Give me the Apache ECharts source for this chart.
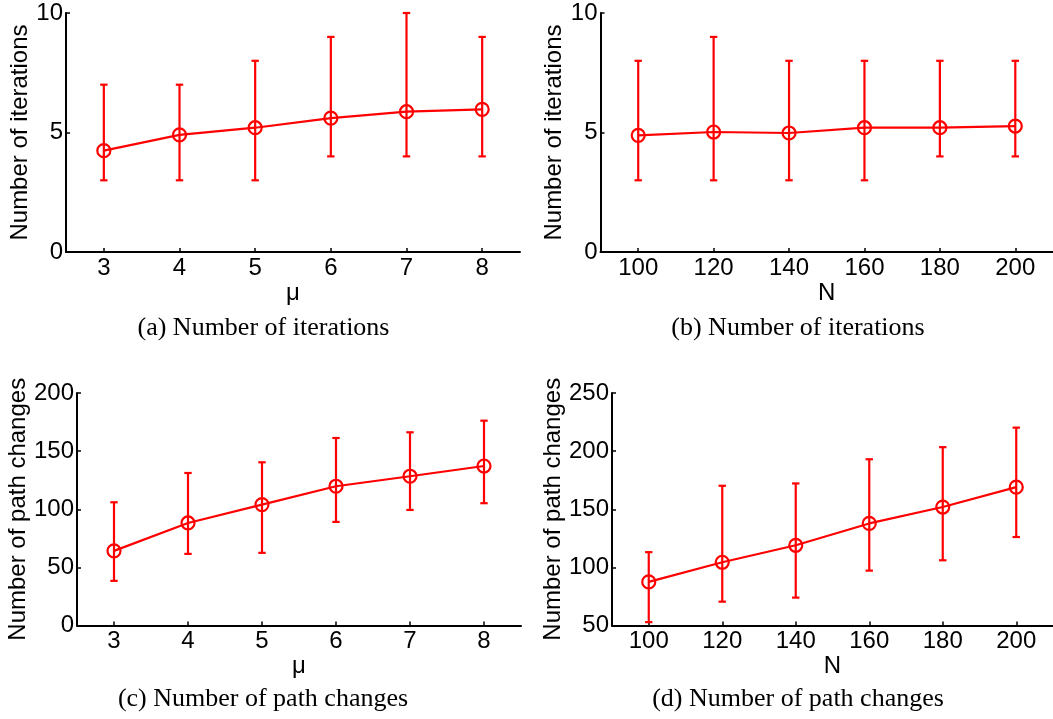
<!DOCTYPE html>
<html>
<head>
<meta charset="utf-8">
<script src="https://cdn.jsdelivr.net/npm/echarts@6/dist/echarts.min.js"></script>
<style>
html, body { margin: 0; padding: 0; background: #fff; }
#main { width: 1053px; height: 719px; }
</style>
</head>
<body>
<div id="main"></div>
<script>
// x values
var muVals = [3, 4, 5, 6, 7, 8];
var nVals = [100, 120, 140, 160, 180, 200];

// (a) iterations vs mu
var iterMuMean = [4.24, 4.9, 5.2, 5.6, 5.87, 5.97];
var iterMuLow = [3, 3, 3, 4, 4, 4];
var iterMuHigh = [7, 7, 8, 9, 10, 9];

// (b) iterations vs N
var iterNMean = [4.88, 5.02, 4.98, 5.2, 5.2, 5.27];
var iterNLow = [3, 3, 3, 3, 4, 4];
var iterNHigh = [8, 9, 8, 8, 8, 8];

// (c) path changes vs mu
var pathMuMean = [64.2, 88.2, 104, 119.8, 128.4, 137.2];
var pathMuLow = [38.4, 61.6, 62.5, 89.1, 99.4, 105.2];
var pathMuHigh = [106, 131.2, 140.4, 161.3, 166.2, 176.2];

// (d) path changes vs N
var pathNMean = [87.5, 104.4, 119, 137.8, 151.9, 169];
var pathNLow = [52.9, 70.5, 74, 97.2, 106.1, 126.1];
var pathNHigh = [113.1, 170.2, 172.2, 193, 203.4, 220.2];

// tick labels
var iterTicks = [0, 5, 10];
var pathMuTicks = [0, 50, 100, 150, 200];
var pathNTicks = [50, 100, 150, 200, 250];

var captions = ['(a) Number of iterations', '(b) Number of iterations',
		'(c) Number of path changes', '(d) Number of path changes'];

var RED = '#ff0000';
var SANS = 'Liberation Sans, Arial, sans-serif';
var FS = 24;

function xAxisOf(idx, name, min, max, ticks) {
	return {
		type : 'value',
		gridIndex : idx,
		min : min,
		max : max,
		name : name,
		nameLocation : 'middle',
		nameGap : 26,
		nameTextStyle : { color : '#000', fontSize : FS, fontFamily : SANS },
		axisLine : { onZero : false, lineStyle : { color : '#000', width : 2 } },
		axisTick : { inside : true, length : 4, customValues : ticks, lineStyle : { color : '#000', width : 1.5 } },
		axisLabel : { customValues : ticks, margin : 4, color : '#000', fontSize : FS, fontFamily : SANS },
		splitLine : { show : false }
	};
}

function yAxisOf(idx, name, min, max, ticks, gap) {
	return {
		type : 'value',
		gridIndex : idx,
		min : min,
		max : max,
		name : name,
		nameLocation : 'middle',
		nameGap : gap,
		nameTextStyle : { color : '#000', fontSize : FS, fontFamily : SANS },
		axisLine : { show : true, onZero : false, lineStyle : { color : '#000', width : 2 } },
		axisTick : { show : true, inside : true, length : 4, customValues : ticks, lineStyle : { color : '#000', width : 1.5 } },
		axisLabel : { customValues : ticks, margin : 3, color : '#000', fontSize : FS, fontFamily : SANS },
		splitLine : { show : false }
	};
}

// 均值折线 + 空心圆
function lineSeries(idx, xs, ys) {
	var data = [];
	for (var i = 0; i < xs.length; i++) {
		data.push([ xs[i], ys[i] ]);
	}
	return {
		type : 'line',
		xAxisIndex : idx,
		yAxisIndex : idx,
		data : data,
		symbol : 'circle',
		symbolSize : 13,
		itemStyle : { color : 'rgba(0,0,0,0)', borderColor : RED, borderWidth : 2.2 },
		lineStyle : { color : RED, width : 2.2 },
		z : 3
	};
}

// 误差棒
function errorSeries(idx, xs, low, high) {
	var data = [];
	for (var i = 0; i < xs.length; i++) {
		data.push([ xs[i], low[i], high[i] ]);
	}
	return {
		type : 'custom',
		xAxisIndex : idx,
		yAxisIndex : idx,
		data : data,
		encode : { x : 0, y : [ 1, 2 ] },
		z : 4,
		renderItem : function(params, api) {
			var x = api.value(0);
			var lo = api.coord([ x, api.value(1) ]);
			var hi = api.coord([ x, api.value(2) ]);
			var w = 3.7;
			var st = { stroke : RED, lineWidth : 2.2 };
			return {
				type : 'group',
				children : [
					{ type : 'line', shape : { x1 : lo[0], y1 : lo[1], x2 : hi[0], y2 : hi[1] }, style : st },
					{ type : 'line', shape : { x1 : lo[0] - w, y1 : lo[1], x2 : lo[0] + w, y2 : lo[1] }, style : st },
					{ type : 'line', shape : { x1 : hi[0] - w, y1 : hi[1], x2 : hi[0] + w, y2 : hi[1] }, style : st }
				]
			};
		}
	};
}

function captionText(x, y, text) {
	return {
		type : 'text',
		x : x,
		y : y,
		style : {
			text : text,
			fill : '#000',
			font : '26px "Liberation Serif", "Times New Roman", serif',
			align : 'center',
			verticalAlign : 'middle',
			textAlign : 'center',
			textVerticalAlign : 'middle'
		}
	};
}

var chart = echarts.init(document.getElementById('main'));

var option = {
	animation : false,
	backgroundColor : '#fff',
	grid : [
		{ left : 66, top : 13, width : 454, height : 239 },
		{ left : 600.5, top : 13, width : 454, height : 239 },
		{ left : 77, top : 393, width : 444, height : 232.5 },
		{ left : 612, top : 393, width : 442, height : 232.5 }
	],
	xAxis : [
		xAxisOf(0, 'μ', 2.5, 8.5, muVals),
		xAxisOf(1, 'N', 90, 210, nVals),
		xAxisOf(2, 'μ', 2.5, 8.5, muVals),
		xAxisOf(3, 'N', 90, 210, nVals)
	],
	yAxis : [
		yAxisOf(0, 'Number of iterations', 0, 10, iterTicks, 34),
		yAxisOf(1, 'Number of iterations', 0, 10, iterTicks, 34),
		yAxisOf(2, 'Number of path changes', 0, 200, pathMuTicks, 45),
		yAxisOf(3, 'Number of path changes', 50, 250, pathNTicks, 45)
	],
	series : [
		lineSeries(0, muVals, iterMuMean),
		errorSeries(0, muVals, iterMuLow, iterMuHigh),
		lineSeries(1, nVals, iterNMean),
		errorSeries(1, nVals, iterNLow, iterNHigh),
		lineSeries(2, muVals, pathMuMean),
		errorSeries(2, muVals, pathMuLow, pathMuHigh),
		lineSeries(3, nVals, pathNMean),
		errorSeries(3, nVals, pathNLow, pathNHigh)
	],
	graphic : [
		captionText(263.5, 328, captions[0]),
		captionText(798, 328, captions[1]),
		captionText(263, 699, captions[2]),
		captionText(798, 699, captions[3])
	]
};

chart.setOption(option);
</script>
</body>
</html>
